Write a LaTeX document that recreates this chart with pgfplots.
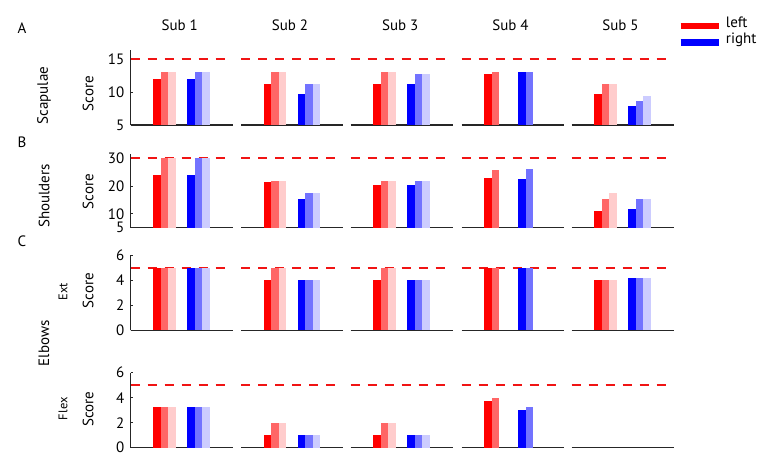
\documentclass[border=0pt]{standalone}
\usepackage{fontspec}
\setmainfont{PT Sans}
\usepackage{pgfplots}
\pgfplotsset{compat=1.18}
\definecolor{axc}{RGB}{38,38,38}
\definecolor{rd1}{RGB}{255,0,0}
\definecolor{rd2}{RGB}{255,102,102}
\definecolor{rd3}{RGB}{255,204,204}
\definecolor{bl1}{RGB}{0,0,255}
\definecolor{bl2}{RGB}{115,115,255}
\definecolor{bl3}{RGB}{204,204,255}
\definecolor{dsh}{RGB}{240,20,20}
\newcommand{\mainsize}{\fontsize{15bp}{17bp}\selectfont}
\newcommand{\ticksize}{\fontsize{15bp}{17bp}\selectfont}
\newcommand{\smallsize}{\fontsize{12.5bp}{14bp}\selectfont}
\pgfplotsset{
  panel/.style={scale only axis, width=102bp, xmin=0, xmax=3, anchor=south west,
    axis x line*=bottom, xtick=\empty,
    axis line style={-, line width=1.3bp, draw=axc},
    clip=true,
    /pgf/number format/assume math mode=true},
  firstcol/.style={axis y line*=left, tick align=inside, major tick length=2.5bp,
    tick style={line width=0.8bp, draw=axc},
    x axis line style={-}, y axis line style={-},
    yticklabel style={font=\ticksize, xshift=-3bp}},
  othercol/.style={axis y line=none, ytick=\empty, x axis line style={-}},
  b/.style={ybar, bar width=0.22, bar shift=0pt, draw=none, fill=#1},
  lim/.style={draw=dsh, line width=2bp, dash pattern=on 9bp off 8bp},
  rowA/.style={height=75bp, ymin=5, ymax=16.4},
  rowB/.style={height=73.4bp, ymin=5, ymax=31.5},
  rowC/.style={height=75bp, ymin=0, ymax=6},
  rowD/.style={height=75bp, ymin=0, ymax=6},
}
\begin{document}
\begin{tikzpicture}
\path (0bp,0bp) rectangle (769bp,-459bp);

% ---------------- Row A: Scapulae ----------------
\begin{axis}[panel, rowA, firstcol, ytick={5,10,15}, at={(130.7bp,-125bp)}]
\addplot[lim] coordinates {(0,15) (3,15)};
\addplot[b=rd1] coordinates {(0.78,12)};
\addplot[b=rd2] coordinates {(1.00,13)};
\addplot[b=rd3] coordinates {(1.22,13)};
\addplot[b=bl1] coordinates {(1.78,12)};
\addplot[b=bl2] coordinates {(2.00,13)};
\addplot[b=bl3] coordinates {(2.22,13)};
\end{axis}
\begin{axis}[panel, othercol, rowA, at={(241bp,-125bp)}]
\addplot[lim] coordinates {(0,15) (3,15)};
\addplot[b=rd1] coordinates {(0.78,11.2)};
\addplot[b=rd2] coordinates {(1.00,13)};
\addplot[b=rd3] coordinates {(1.22,13)};
\addplot[b=bl1] coordinates {(1.78,9.65)};
\addplot[b=bl2] coordinates {(2.00,11.2)};
\addplot[b=bl3] coordinates {(2.22,11.2)};
\end{axis}
\begin{axis}[panel, othercol, rowA, at={(350.7bp,-125bp)}]
\addplot[lim] coordinates {(0,15) (3,15)};
\addplot[b=rd1] coordinates {(0.78,11.2)};
\addplot[b=rd2] coordinates {(1.00,13)};
\addplot[b=rd3] coordinates {(1.22,13)};
\addplot[b=bl1] coordinates {(1.78,11.2)};
\addplot[b=bl2] coordinates {(2.00,12.7)};
\addplot[b=bl3] coordinates {(2.22,12.7)};
\end{axis}
\begin{axis}[panel, othercol, rowA, at={(461.7bp,-125bp)}]
\addplot[lim] coordinates {(0,15) (3,15)};
\addplot[b=rd1] coordinates {(0.78,12.7)};
\addplot[b=rd2] coordinates {(1.00,13)};
\addplot[b=bl1] coordinates {(1.78,13)};
\addplot[b=bl2] coordinates {(2.00,13)};
\end{axis}
\begin{axis}[panel, othercol, rowA, at={(571.7bp,-125bp)}]
\addplot[lim] coordinates {(0,15) (3,15)};
\addplot[b=rd1] coordinates {(0.78,9.65)};
\addplot[b=rd2] coordinates {(1.00,11.2)};
\addplot[b=rd3] coordinates {(1.22,11.2)};
\addplot[b=bl1] coordinates {(1.78,7.9)};
\addplot[b=bl2] coordinates {(2.00,8.6)};
\addplot[b=bl3] coordinates {(2.22,9.4)};
\end{axis}

% ---------------- Row B: Shoulders ----------------
\begin{axis}[panel, rowB, firstcol, ytick={5,10,20,30}, at={(130.7bp,-227.7bp)}]
\addplot[lim] coordinates {(0,30) (3,30)};
\addplot[b=rd1] coordinates {(0.78,24)};
\addplot[b=rd2] coordinates {(1.00,30)};
\addplot[b=rd3] coordinates {(1.22,30)};
\addplot[b=bl1] coordinates {(1.78,24)};
\addplot[b=bl2] coordinates {(2.00,30)};
\addplot[b=bl3] coordinates {(2.22,30)};
\end{axis}
\begin{axis}[panel, othercol, rowB, at={(241bp,-227.7bp)}]
\addplot[lim] coordinates {(0,30) (3,30)};
\addplot[b=rd1] coordinates {(0.78,21.6)};
\addplot[b=rd2] coordinates {(1.00,21.9)};
\addplot[b=rd3] coordinates {(1.22,21.9)};
\addplot[b=bl1] coordinates {(1.78,15.3)};
\addplot[b=bl2] coordinates {(2.00,17.7)};
\addplot[b=bl3] coordinates {(2.22,17.7)};
\end{axis}
\begin{axis}[panel, othercol, rowB, at={(350.7bp,-227.7bp)}]
\addplot[lim] coordinates {(0,30) (3,30)};
\addplot[b=rd1] coordinates {(0.78,20.4)};
\addplot[b=rd2] coordinates {(1.00,22)};
\addplot[b=rd3] coordinates {(1.22,22)};
\addplot[b=bl1] coordinates {(1.78,20.4)};
\addplot[b=bl2] coordinates {(2.00,21.9)};
\addplot[b=bl3] coordinates {(2.22,21.9)};
\end{axis}
\begin{axis}[panel, othercol, rowB, at={(461.7bp,-227.7bp)}]
\addplot[lim] coordinates {(0,30) (3,30)};
\addplot[b=rd1] coordinates {(0.78,22.9)};
\addplot[b=rd2] coordinates {(1.00,25.7)};
\addplot[b=bl1] coordinates {(1.78,22.6)};
\addplot[b=bl2] coordinates {(2.00,26.3)};
\end{axis}
\begin{axis}[panel, othercol, rowB, at={(571.7bp,-227.7bp)}]
\addplot[lim] coordinates {(0,30) (3,30)};
\addplot[b=rd1] coordinates {(0.78,11.2)};
\addplot[b=rd2] coordinates {(1.00,15.5)};
\addplot[b=rd3] coordinates {(1.22,17.4)};
\addplot[b=bl1] coordinates {(1.78,11.8)};
\addplot[b=bl2] coordinates {(2.00,15.2)};
\addplot[b=bl3] coordinates {(2.22,15.5)};
\end{axis}

% ---------------- Row C: Elbows Ext ----------------
\begin{axis}[panel, rowC, firstcol, ytick={0,2,4,6}, at={(130.7bp,-330.3bp)}]
\addplot[lim] coordinates {(0,5) (3,5)};
\addplot[b=rd1] coordinates {(0.78,5)};
\addplot[b=rd2] coordinates {(1.00,5)};
\addplot[b=rd3] coordinates {(1.22,5)};
\addplot[b=bl1] coordinates {(1.78,5)};
\addplot[b=bl2] coordinates {(2.00,5)};
\addplot[b=bl3] coordinates {(2.22,5)};
\end{axis}
\begin{axis}[panel, othercol, rowC, at={(241bp,-330.3bp)}]
\addplot[lim] coordinates {(0,5) (3,5)};
\addplot[b=rd1] coordinates {(0.78,4)};
\addplot[b=rd2] coordinates {(1.00,5)};
\addplot[b=rd3] coordinates {(1.22,5)};
\addplot[b=bl1] coordinates {(1.78,4)};
\addplot[b=bl2] coordinates {(2.00,4)};
\addplot[b=bl3] coordinates {(2.22,4)};
\end{axis}
\begin{axis}[panel, othercol, rowC, at={(350.7bp,-330.3bp)}]
\addplot[lim] coordinates {(0,5) (3,5)};
\addplot[b=rd1] coordinates {(0.78,4)};
\addplot[b=rd2] coordinates {(1.00,5)};
\addplot[b=rd3] coordinates {(1.22,5)};
\addplot[b=bl1] coordinates {(1.78,4)};
\addplot[b=bl2] coordinates {(2.00,4)};
\addplot[b=bl3] coordinates {(2.22,4)};
\end{axis}
\begin{axis}[panel, othercol, rowC, at={(461.7bp,-330.3bp)}]
\addplot[lim] coordinates {(0,5) (3,5)};
\addplot[b=rd1] coordinates {(0.78,5)};
\addplot[b=rd2] coordinates {(1.00,4.95)};
\addplot[b=bl1] coordinates {(1.78,5)};
\addplot[b=bl2] coordinates {(2.00,4.95)};
\end{axis}
\begin{axis}[panel, othercol, rowC, at={(571.7bp,-330.3bp)}]
\addplot[lim] coordinates {(0,5) (3,5)};
\addplot[b=rd1] coordinates {(0.78,4)};
\addplot[b=rd2] coordinates {(1.00,4)};
\addplot[b=rd3] coordinates {(1.22,4)};
\addplot[b=bl1] coordinates {(1.78,4.2)};
\addplot[b=bl2] coordinates {(2.00,4.2)};
\addplot[b=bl3] coordinates {(2.22,4.2)};
\end{axis}

% ---------------- Row D: Elbows Flex ----------------
\begin{axis}[panel, rowD, firstcol, ytick={0,2,4,6}, at={(130.7bp,-447.7bp)}]
\addplot[lim] coordinates {(0,5) (3,5)};
\addplot[b=rd1] coordinates {(0.78,3.25)};
\addplot[b=rd2] coordinates {(1.00,3.25)};
\addplot[b=rd3] coordinates {(1.22,3.25)};
\addplot[b=bl1] coordinates {(1.78,3.25)};
\addplot[b=bl2] coordinates {(2.00,3.25)};
\addplot[b=bl3] coordinates {(2.22,3.25)};
\end{axis}
\begin{axis}[panel, othercol, rowD, at={(241bp,-447.7bp)}]
\addplot[lim] coordinates {(0,5) (3,5)};
\addplot[b=rd1] coordinates {(0.78,1)};
\addplot[b=rd2] coordinates {(1.00,2)};
\addplot[b=rd3] coordinates {(1.22,2)};
\addplot[b=bl1] coordinates {(1.78,1)};
\addplot[b=bl2] coordinates {(2.00,1)};
\addplot[b=bl3] coordinates {(2.22,1)};
\end{axis}
\begin{axis}[panel, othercol, rowD, at={(350.7bp,-447.7bp)}]
\addplot[lim] coordinates {(0,5) (3,5)};
\addplot[b=rd1] coordinates {(0.78,1)};
\addplot[b=rd2] coordinates {(1.00,2)};
\addplot[b=rd3] coordinates {(1.22,2)};
\addplot[b=bl1] coordinates {(1.78,1)};
\addplot[b=bl2] coordinates {(2.00,1)};
\addplot[b=bl3] coordinates {(2.22,1)};
\end{axis}
\begin{axis}[panel, othercol, rowD, at={(461.7bp,-447.7bp)}]
\addplot[lim] coordinates {(0,5) (3,5)};
\addplot[b=rd1] coordinates {(0.78,3.75)};
\addplot[b=rd2] coordinates {(1.00,4)};
\addplot[b=bl1] coordinates {(1.78,3)};
\addplot[b=bl2] coordinates {(2.00,3.25)};
\end{axis}
\begin{axis}[panel, othercol, rowD, at={(571.7bp,-447.7bp)}]
\addplot[lim] coordinates {(0,5) (3,5)};
\end{axis}

% ---------------- Texts ----------------
\begin{scope}[every node/.style={font=\mainsize, inner sep=0pt}]
\node at (22bp,-28.5bp) {A};
\node at (22bp,-142.5bp) {B};
\node at (22bp,-241bp) {C};
\node[anchor=base] at (179.7bp,-30.7bp) {Sub 1};
\node[anchor=base] at (290bp,-30.7bp) {Sub 2};
\node[anchor=base] at (400.2bp,-30.7bp) {Sub 3};
\node[anchor=base] at (510.5bp,-30.7bp) {Sub 4};
\node[anchor=base] at (620.5bp,-30.7bp) {Sub 5};
\node[rotate=90] at (44bp,-95.5bp) {Scapulae};
\node[rotate=90] at (44bp,-196bp) {Shoulders};
\node[rotate=90] at (44bp,-343.3bp) {Elbows};
\node[rotate=90] at (88bp,-93.5bp) {Score};
\node[rotate=90] at (88bp,-191.7bp) {Score};
\node[rotate=90] at (88bp,-290.5bp) {Score};
\node[rotate=90] at (88bp,-409bp) {Score};
\node[rotate=90, font=\smallsize] at (63bp,-291.7bp) {Ext};
\node[rotate=90, font=\smallsize] at (63bp,-408.7bp) {Flex};
% legend
\draw[rd1, line width=6.6bp] (680.7bp,-26bp) -- (719.3bp,-26bp);
\draw[bl1, line width=6.6bp] (680.7bp,-42.7bp) -- (719.3bp,-42.7bp);
\node[anchor=base west] at (725.7bp,-27bp) {left};
\node[anchor=base west] at (725.7bp,-43.5bp) {right};
\end{scope}
\end{tikzpicture}
\end{document}
